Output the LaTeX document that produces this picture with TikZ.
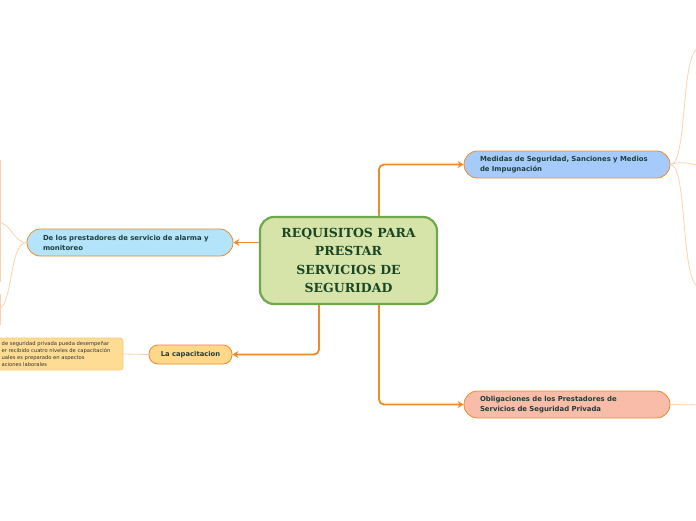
\documentclass[tikz,border=0pt]{standalone}
\usepackage{fontspec}
\setmainfont{DejaVu Sans}
\newfontfamily\titlefont{DejaVu Serif}
\usetikzlibrary{arrows.meta}
\definecolor{mainfill}{HTML}{D7E4A9}
\definecolor{mainborder}{HTML}{6EA84C}
\definecolor{maintext}{HTML}{1A4626}
\definecolor{conn}{HTML}{F0892A}
\definecolor{thin}{HTML}{FCD3AE}
\definecolor{subtext}{HTML}{1F3F3C}
\definecolor{bluefill}{HTML}{A6CBFA}
\definecolor{cyanfill}{HTML}{B3E4F9}
\definecolor{yelfill}{HTML}{FFD88C}
\definecolor{pinkfill}{HTML}{F8BCA8}
\definecolor{notefill}{HTML}{FFDC94}
\definecolor{noteborder}{HTML}{FBC97A}
\tikzset{
  mainnode/.style={draw=mainborder, line width=2.2pt, fill=mainfill, rounded corners=14pt,
    minimum width=177pt, minimum height=87pt, align=center, text=maintext,
    font=\titlefont\bfseries\fontsize{12.5}{18.5}\selectfont, inner sep=0pt},
  subnode/.style={draw=conn, line width=0.8pt, rounded corners=13.5pt,
    minimum width=206pt, minimum height=27pt, text width=174pt, align=left,
    text=subtext, font=\bfseries\fontsize{6.9}{10}\selectfont, inner sep=0pt},
  smallnode/.style={draw=conn, line width=0.8pt, rounded corners=9pt,
    minimum width=83pt, minimum height=19pt, align=center,
    text=subtext, font=\bfseries\fontsize{6.8}{8}\selectfont, inner sep=0pt},
  notebox/.style={draw=noteborder, line width=0.7pt, fill=notefill, rounded corners=3pt,
    minimum width=132pt, minimum height=32pt, inner sep=0pt},
  notetext/.style={align=left, text=black!80, font=\fontsize{5.2}{7}\selectfont, inner sep=0pt},
  connline/.style={draw=conn, line width=1.8pt, rounded corners=5pt,
    -{Stealth[length=6pt,width=7pt]}},
  thinline/.style={draw=thin, line width=0.8pt}
}
\begin{document}
\begin{tikzpicture}[x=1pt,y=-1pt]
\useasboundingbox (0,0) rectangle (696,520);
\clip (0,0) rectangle (696,520);
\fill[white] (0,0) rectangle (696,520);

% thin edges (behind)
\coordinate (r1) at (700,48);
\coordinate (r2) at (700,165);
\coordinate (r3) at (700,287);
\coordinate (l1) at (-4,222);
\coordinate (l2) at (-4,310);
\coordinate (r4) at (700,405);
\draw[thinline] (0.8,160) -- (0.8,282);
\draw[thinline] (0.8,294) -- (0.8,325);

\node[mainnode] (c) at (348.5,260.5) {REQUISITOS PARA\\PRESTAR\\SERVICIOS DE\\SEGURIDAD};
\node[subnode, fill=bluefill] (m) at (567,164.5) {Medidas de Seguridad, Sanciones y Medios\\de Impugnación};
\node[subnode, fill=cyanfill] (d) at (130,242.5) {De los prestadores de servicio de alarma y\\monitoreo};
\node[smallnode, fill=yelfill] (k) at (190.5,354.5) {La capacitacion};
\node[subnode, fill=pinkfill] (o) at (567,404.5) {Obligaciones de los Prestadores de\\Servicios de Seguridad Privada};
\node[notebox] (n) at (57,354) {};
\node[notetext, anchor=west] (nt) at (1.5,354) {de seguridad privada pueda desempeñar\\er recibido cuatro  niveles de capacitación\\uales es preparado en  aspectos\\aciones laborales};

\draw[thinline] (m.east) .. controls (688,165) and (680,48) .. (r1);
\draw[thinline] (m.east) .. controls (684,160) and (690,165) .. (r2);
\draw[thinline] (m.east) .. controls (688,165) and (680,287) .. (r3);
\draw[thinline] (d.west) .. controls (12,242) and (12,222) .. (l1);
\draw[thinline] (d.west) .. controls (8,243) and (14,310) .. (l2);
\draw[thinline] (k.west) -- (n.east);
\draw[thinline] (o.east) -- (r4);

% main connectors
\draw[connline] ([xshift=30.5pt]c.north) |- (m.west);
\draw[connline] (d.east -| c.west) -- (d.east);
\draw[connline] ([xshift=-29.5pt]c.south) |- (k.east);
\draw[connline] ([xshift=30.5pt]c.south) |- (o.west);
\end{tikzpicture}
\end{document}
